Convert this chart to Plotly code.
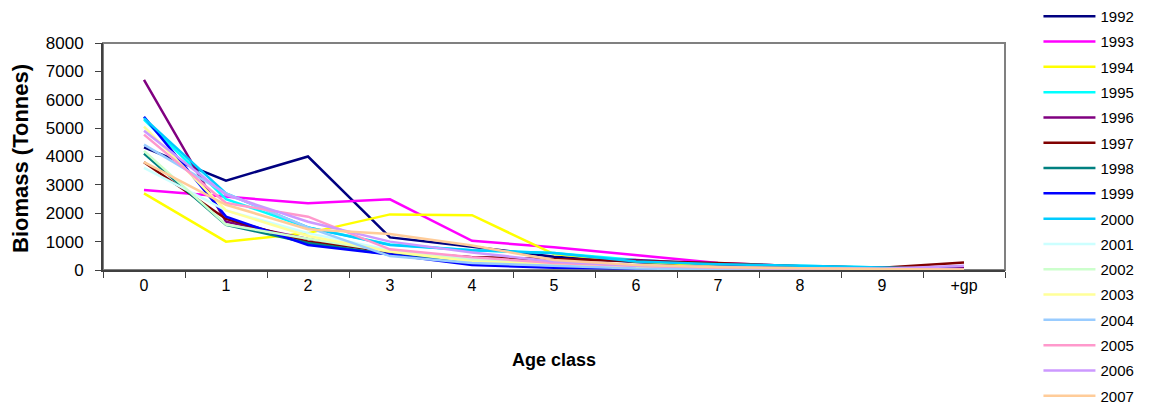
import plotly.graph_objects as go

ages = ["0", "1", "2", "3", "4", "5", "6", "7", "8", "9", "+gp"]
years = ["1992", "1993", "1994", "1995", "1996", "1997", "1998", "1999",
         "2000", "2001", "2002", "2003", "2004", "2005", "2006", "2007"]

b1992 = [4320, 3150, 4000, 1150, 820, 470, 280, 150, 100, 60, 30]
b1993 = [2820, 2580, 2350, 2490, 1030, 800, 520, 250, 130, 70, 40]
b1994 = [2700, 1000, 1300, 1960, 1930, 560, 300, 150, 90, 50, 20]
b1995 = [5300, 2500, 1500, 900, 700, 600, 350, 200, 150, 80, 30]
b1996 = [6700, 1700, 1090, 600, 450, 350, 350, 200, 120, 80, 100]
b1997 = [3800, 1800, 1000, 650, 450, 380, 300, 250, 130, 80, 260]
b1998 = [4100, 1590, 950, 550, 300, 200, 150, 100, 80, 50, 20]
b1999 = [5400, 1880, 880, 550, 180, 80, 50, 30, 20, 10, 10]
b2000 = [5350, 2700, 1500, 880, 700, 600, 300, 200, 150, 80, 30]
b2001 = [3600, 2100, 1300, 700, 400, 250, 100, 60, 40, 20, 10]
b2002 = [4200, 1600, 1100, 650, 350, 200, 100, 60, 40, 20, 10]
b2003 = [5050, 2100, 1200, 650, 300, 200, 120, 60, 40, 20, 10]
b2004 = [4420, 2700, 1500, 490, 250, 150, 50, 30, 20, 10, 10]
b2005 = [4770, 2360, 1880, 730, 450, 250, 150, 80, 50, 30, 20]
b2006 = [4910, 2650, 1700, 1000, 620, 300, 150, 100, 60, 40, 150]
b2007 = [3800, 2300, 1440, 1270, 860, 350, 180, 100, 60, 30, 10]

series = [b1992, b1993, b1994, b1995, b1996, b1997, b1998, b1999,
          b2000, b2001, b2002, b2003, b2004, b2005, b2006, b2007]
colors = ["#000080", "#FF00FF", "#FFFF00", "#00FFFF", "#800080", "#800000",
          "#008080", "#0000FF", "#00CCFF", "#CCFFFF", "#CCFFCC", "#FFFF99",
          "#99CCFF", "#FF99CC", "#CC99FF", "#FFCC99"]

fig = go.Figure()
for yr, vals, col in zip(years, series, colors):
    fig.add_trace(go.Scatter(x=ages, y=vals, name=yr, mode="lines",
                             line=dict(color=col, width=2.5),
                             legendgroup=yr))

font = "Liberation Sans, Arial, sans-serif"
fig.update_layout(
    width=1150, height=407,
    margin=dict(l=103, r=145, t=43, b=137, autoexpand=False),
    paper_bgcolor="white", plot_bgcolor="white",
    font=dict(family=font, size=16, color="black"),
    showlegend=True,
    legend=dict(xref="container", yref="container", x=0.903, xanchor="left",
                y=1.0, yanchor="top",
                font=dict(size=15), tracegroupgap=2.8, maxheight=460,
                itemwidth=52, bgcolor="rgba(0,0,0,0)"),
    xaxis=dict(type="category", categoryorder="array", categoryarray=ages,
               range=[-0.5, 10.5], tickson="boundaries", ticks="outside",
               ticklen=6, tickcolor="#404040", showline=True,
               linecolor="#404040", linewidth=2, showgrid=False,
               tickfont=dict(size=16), zeroline=False,
               title=dict(text="<b>Age class</b>", font=dict(size=18), standoff=60)),
    yaxis=dict(range=[0, 8000], dtick=1000, ticks="outside", ticklen=6,
               tickcolor="#404040", showline=True, linecolor="#404040",
               linewidth=2, showgrid=False, zeroline=False,
               tickfont=dict(size=17), ticklabelstandoff=8),
    annotations=[dict(text="<b>Biomass (Tonnes)</b>", xref="paper", yref="paper",
                      x=-103 / 902 + 21 / 902, xanchor="center",
                      y=0.489, yanchor="middle", textangle=-90, showarrow=False,
                      font=dict(size=22))],
    shapes=[dict(type="rect", xref="paper", yref="paper", x0=0, y0=0, x1=1, y1=1,
                 line=dict(color="#808080", width=2), layer="below")],
)

fig.write_html("out.html")
